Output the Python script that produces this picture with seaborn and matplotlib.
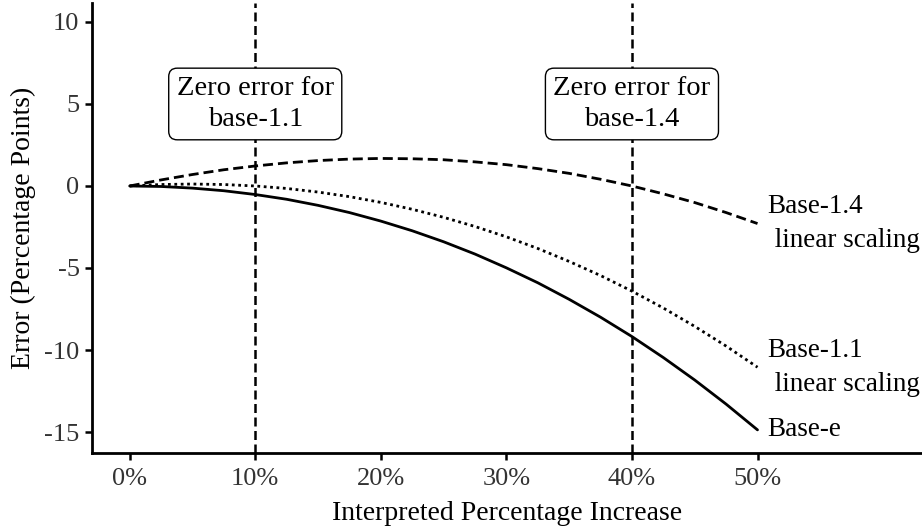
import numpy as np
import pandas as pd
import matplotlib
matplotlib.use("Agg")
import matplotlib.pyplot as plt
import seaborn as sns

# interpreted percentage increase (percent)
pct = [0, 2.5, 5, 7.5, 10, 12.5, 15, 17.5, 20, 22.5, 25,
       27.5, 30, 32.5, 35, 37.5, 40, 42.5, 45, 47.5, 50]

# error in percentage points
err_base_e = [0, -0.03, -0.13, -0.29, -0.52, -0.81, -1.18, -1.62, -2.14, -2.73, -3.40,
              -4.15, -4.99, -5.90, -6.91, -8.00, -9.18, -10.46, -11.83, -13.30, -14.87]
err_base_11 = [0, 0.09, 0.12, 0.09, 0.00, -0.15, -0.37, -0.65, -1.00, -1.42, -1.91,
               -2.47, -3.10, -3.81, -4.60, -5.46, -6.41, -7.44, -8.56, -9.76, -11.05]
err_base_14 = [0, 0.37, 0.70, 0.99, 1.22, 1.41, 1.55, 1.64, 1.68, 1.66, 1.60,
               1.47, 1.30, 1.06, 0.77, 0.41, 0.00, -0.48, -1.01, -1.62, -2.29]

series_names = ["Base-e", "Base-1.1\n linear scaling", "Base-1.4\n linear scaling"]
zero_lines = [10, 40]
zero_labels = ["Zero error for\nbase-1.1", "Zero error for\nbase-1.4"]

df = pd.DataFrame({
    "pct": pct * 3,
    "err": err_base_e + err_base_11 + err_base_14,
    "series": np.repeat(series_names, len(pct)),
})

sns.set_theme(style="ticks")
plt.rcParams["font.family"] = ["Liberation Serif", "DejaVu Serif"]
plt.rcParams["axes.unicode_minus"] = False

fig = plt.figure(figsize=(9.22, 5.27), dpi=100)
ax = fig.add_axes([0.0998, 0.1404, 0.9002, 0.854])

sns.lineplot(data=df, x="pct", y="err", style="series", color="black",
             dashes={"Base-e": "", "Base-1.1\n linear scaling": (1, 1.3),
                     "Base-1.4\n linear scaling": (3.6, 1.8)},
             linewidth=2.0, legend=False, ax=ax)

for xv, lab in zip(zero_lines, zero_labels):
    ax.axvline(xv, color="black", linestyle=(0, (3.6, 1.8)), linewidth=1.8, zorder=1)
    ax.text(xv, 5, lab, ha="center", va="center", fontsize=20.5, color="black",
            linespacing=1.3, zorder=3,
            bbox=dict(boxstyle="round,pad=0.28,rounding_size=0.3",
                      fc="white", ec="black", lw=1.0))

# end labels
for name, vals in zip(series_names, [err_base_e, err_base_11, err_base_14]):
    ax.text(pct[-1] + 0.8, vals[-1], name, ha="left", va="center",
            fontsize=19.5, linespacing=1.45, color="black")

ax.set_xlim(-3.0, 63.1)
ax.set_ylim(-16.28, 11.16)
ax.set_xticks([0, 10, 20, 30, 40, 50])
ax.set_xticklabels([f"{v}%" for v in [0, 10, 20, 30, 40, 50]])
ax.set_yticks([-15, -10, -5, 0, 5, 10])
ax.set_xlabel("Interpreted Percentage Increase", fontsize=20, color="black", labelpad=8)
ax.set_ylabel("Error (Percentage Points)", fontsize=20, color="black", labelpad=6)
ax.tick_params(axis="x", pad=6)
ax.tick_params(axis="y", pad=4)
ax.tick_params(axis="both", labelsize=19, colors="#333333", width=1.8, length=5)
ax.tick_params(axis="both", color="black")
for s in ["left", "bottom"]:
    ax.spines[s].set_linewidth(2.0)
    ax.spines[s].set_color("black")
sns.despine(ax=ax)

fig.savefig("out.png", dpi=100)
